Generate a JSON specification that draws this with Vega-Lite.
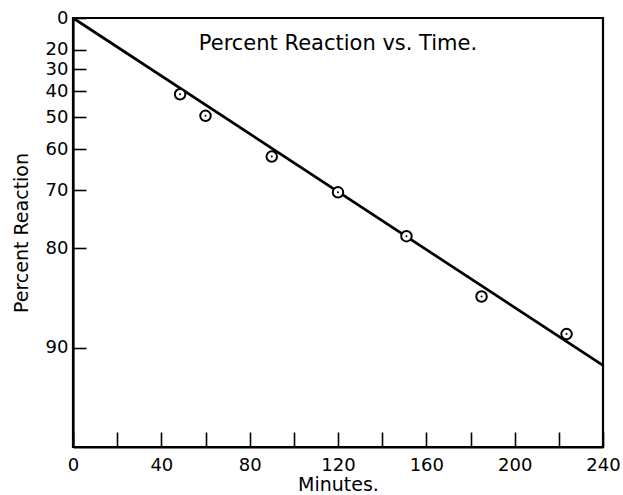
{
  "$schema": "https://vega.github.io/schema/vega-lite/v6.json",
  "width": 530,
  "height": 429,
  "autosize": "none",
  "padding": {"left": 73, "top": 18, "right": 20, "bottom": 48},
  "background": "white",
  "config": {
    "font": "DejaVu Sans",
    "view": {"stroke": "black", "strokeWidth": 2.2},
    "axis": {"grid": false, "domainColor": "black", "domainWidth": 2.2, "tickColor": "black", "tickWidth": 1.6, "labelColor": "black", "titleColor": "black", "labelFont": "DejaVu Sans", "titleFont": "DejaVu Sans", "titleFontWeight": "normal", "labelFlush": false, "labelOverlap": false}
  },
  "title": {
    "text": "Percent Reaction vs. Time.",
    "frame": "group",
    "anchor": "middle",
    "orient": "top",
    "offset": -62,
    "baseline": "alphabetic",
    "fontSize": 21,
    "fontWeight": "normal",
    "font": "DejaVu Sans",
    "color": "black"
  },
  "datasets": {
    "points": [
      {"minutes": 48.5, "unreacted": 58.7},
      {"minutes": 60, "unreacted": 50.5},
      {"minutes": 90, "unreacted": 38.0},
      {"minutes": 120, "unreacted": 29.6},
      {"minutes": 151, "unreacted": 21.8},
      {"minutes": 185, "unreacted": 14.3},
      {"minutes": 223.5, "unreacted": 11.0}
    ],
    "fit": [
      {"minutes": 0, "unreacted": 100},
      {"minutes": 240, "unreacted": 8.84}
    ]
  },
  "encoding": {
    "x": {
      "field": "minutes",
      "type": "quantitative",
      "scale": {"domain": [0, 240], "nice": false, "zero": false},
      "axis": {
        "values": [0, 20, 40, 60, 80, 100, 120, 140, 160, 180, 200, 220, 240],
        "labelExpr": "datum.value % 40 === 0 ? datum.label : ''",
        "tickSize": -15,
        "labelPadding": 24,
        "labelFontSize": 18,
        "title": "Minutes.",
        "titleFontSize": 19,
        "titleY": 28,
        "titleBaseline": "top"
      }
    },
    "y": {
      "field": "unreacted",
      "type": "quantitative",
      "scale": {"type": "log", "domain": [5, 100], "nice": false},
      "axis": {
        "values": [100, 80, 70, 60, 50, 40, 30, 20, 10],
        "labelExpr": "'' + (100 - datum.value)",
        "tickSize": -13,
        "labelPadding": 18,
        "labelFontSize": 18,
        "title": "Percent Reaction",
        "titleFontSize": 19,
        "titleX": -46,
        "titleBaseline": "alphabetic"
      }
    }
  },
  "layer": [
    {
      "data": {"name": "fit"},
      "mark": {"type": "line", "color": "black", "strokeWidth": 2.7}
    },
    {
      "data": {"name": "points"},
      "mark": {"type": "point", "shape": "circle", "filled": false, "fill": "white", "fillOpacity": 1, "stroke": "black", "strokeWidth": 2, "opacity": 1, "size": 110}
    },
    {
      "data": {"name": "points"},
      "mark": {"type": "point", "shape": "circle", "filled": true, "color": "black", "opacity": 1, "size": 4}
    }
  ]
}
